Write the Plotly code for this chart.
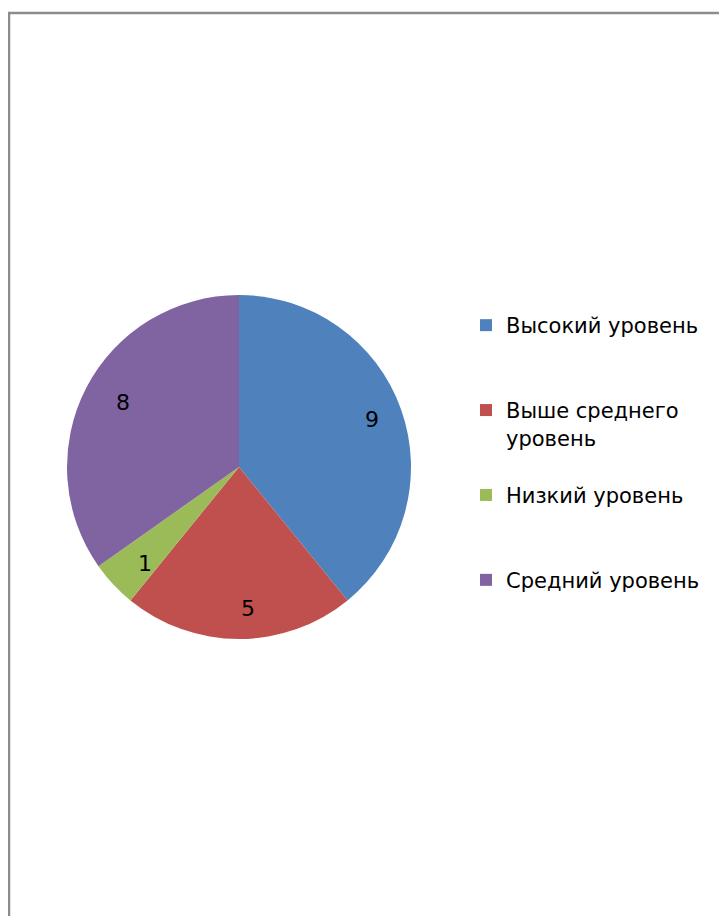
import math
import plotly.graph_objects as go

categories = ["Высокий уровень", "Выше среднего<br>уровень", "Низкий уровень", "Средний уровень"]
values = [9, 5, 1, 8]
colors = ["#4F81BD", "#C0504D", "#9BBB59", "#8064A2"]

W, H = 727, 916
cx, cy, R = 231, 459, 172   # page has an 8px body margin
FONT = "DejaVu Sans"

fig = go.Figure(go.Pie(
    labels=[c + "<br> " if "<br>" in c else c + "<br> <br> " for c in categories],
    values=values,
    sort=False,
    direction="clockwise",
    rotation=0,
    marker=dict(colors=colors, line=dict(width=0)),
    textinfo="none",
    domain=dict(x=[(cx - R) / W, (cx + R) / W], y=[(H - cy - R) / H, (H - cy + R) / H]),
    hoverinfo="label+value",
))

# value labels placed inside each slice, near its outer part
total = sum(values)
cum = 0
annotations = []
for v in values:
    mid = (cum + v / 2) / total * 2 * math.pi
    cum += v
    r = 0.82 * R
    annotations.append(dict(
        x=(cx + r * math.sin(mid)) / W, y=1 - (cy - r * math.cos(mid)) / H,
        xref="paper", yref="paper", text=str(v), showarrow=False,
        font=dict(family=FONT, size=22, color="black"),
    ))

fig.update_layout(
    width=W, height=H,
    margin=dict(l=0, r=0, t=0, b=0),
    paper_bgcolor="white",
    plot_bgcolor="white",
    showlegend=True,
    legend=dict(
        x=458 / W, y=1 - 297 / H, xanchor="left", yanchor="top",
        valign="top",
        font=dict(family=FONT, size=21, color="black"),
        bgcolor="rgba(0,0,0,0)",
    ),
    annotations=annotations,
    shapes=[dict(type="rect", xref="paper", yref="paper",
                 x0=1 / W, x1=1.05, y0=-0.05, y1=1 - 5 / H,
                 line=dict(color="#8c8c8c", width=2.5))],
)

fig.write_html("out.html")
